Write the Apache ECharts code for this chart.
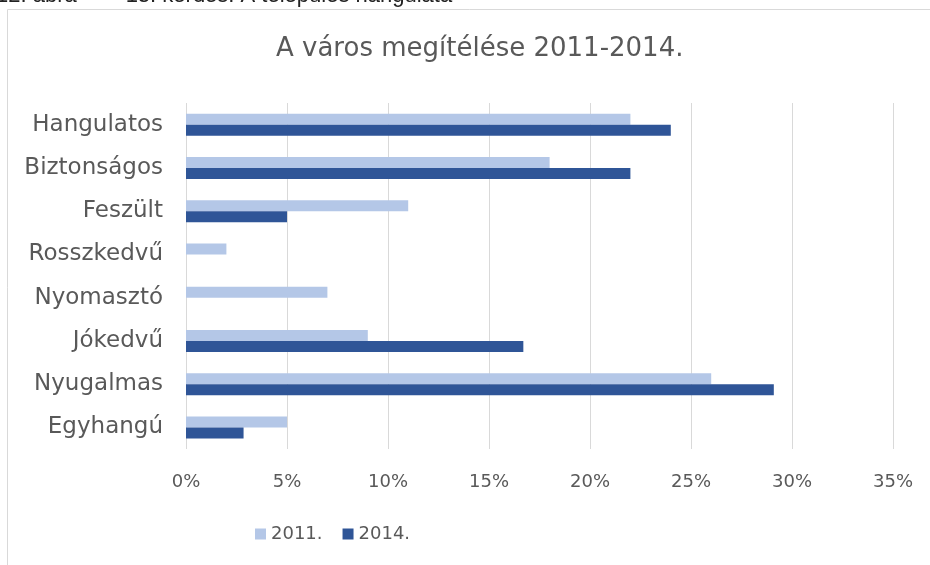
<!DOCTYPE html>
<html>
<head>
<meta charset="utf-8">
<script src="https://cdn.jsdelivr.net/npm/echarts@6/dist/echarts.min.js"></script>
<style>
  html, body { margin: 0; padding: 0; background: #fff; }
  #chart { width: 930px; height: 565px; }
</style>
</head>
<body>
<div id="chart"></div>
<script>
  // kategóriák és értékek (%)
  const categories = ['Hangulatos', 'Biztonságos', 'Feszült', 'Rosszkedvű', 'Nyomasztó', 'Jókedvű', 'Nyugalmas', 'Egyhangú'];
  const values2011 = [22, 18, 11, 2, 7, 9, 26, 5];
  const values2014 = [24, 22, 5, 0, 0, 16.7, 29.1, 2.85];
  const seriesNames = ['2011.', '2014.'];

  const myChart = echarts.init(document.getElementById('chart'));
  const font = 'DejaVu Sans';

  const option = {
    animation: false,
    textStyle: { fontFamily: font },
    title: {
      text: 'A város megítélése 2011-2014.',
      left: 271,
      top: 31,
      textStyle: { fontSize: 26, fontWeight: 'normal', color: '#595959', fontFamily: font }
    },
    graphic: [
      {
        type: 'text',
        left: -4,
        top: -15,
        style: { text: '12. ábra        13. kérdés: A település hangulata', fontSize: 22, fill: '#222', font: '22px DejaVu Sans' }
      },
      {
        type: 'rect',
        shape: { x: 7.5, y: 9.5, width: 940, height: 600 },
        style: { fill: 'none', stroke: '#d9d9d9', lineWidth: 1 },
        z: -1
      }
    ],
    legend: {
      data: seriesNames,
      left: 250,
      top: 520,
      icon: 'rect',
      itemWidth: 11,
      itemHeight: 11,
      itemGap: 20,
      textStyle: { fontSize: 18, color: '#595959', fontFamily: font }
    },
    grid: { left: 186, right: 37, top: 103, bottom: 116 },
    xAxis: {
      type: 'value',
      min: 0,
      max: 35,
      interval: 5,
      axisLabel: { formatter: '{value}%', fontSize: 18, color: '#595959', margin: 24 },
      axisLine: { show: false },
      axisTick: { show: false },
      splitLine: { lineStyle: { color: '#d9d9d9', width: 1 } }
    },
    yAxis: {
      type: 'category',
      inverse: true,
      data: categories,
      axisLabel: { fontSize: 23, color: '#595959', margin: 23 },
      axisLine: { show: false },
      axisTick: { show: false }
    },
    series: [
      {
        name: seriesNames[0],
        type: 'bar',
        data: values2011,
        barWidth: 11,
        barGap: '0%',
        itemStyle: { color: '#b4c7e7' }
      },
      {
        name: seriesNames[1],
        type: 'bar',
        data: values2014,
        barWidth: 11,
        barGap: '0%',
        itemStyle: { color: '#2f5597' }
      }
    ]
  };

  myChart.setOption(option);
</script>
</body>
</html>
